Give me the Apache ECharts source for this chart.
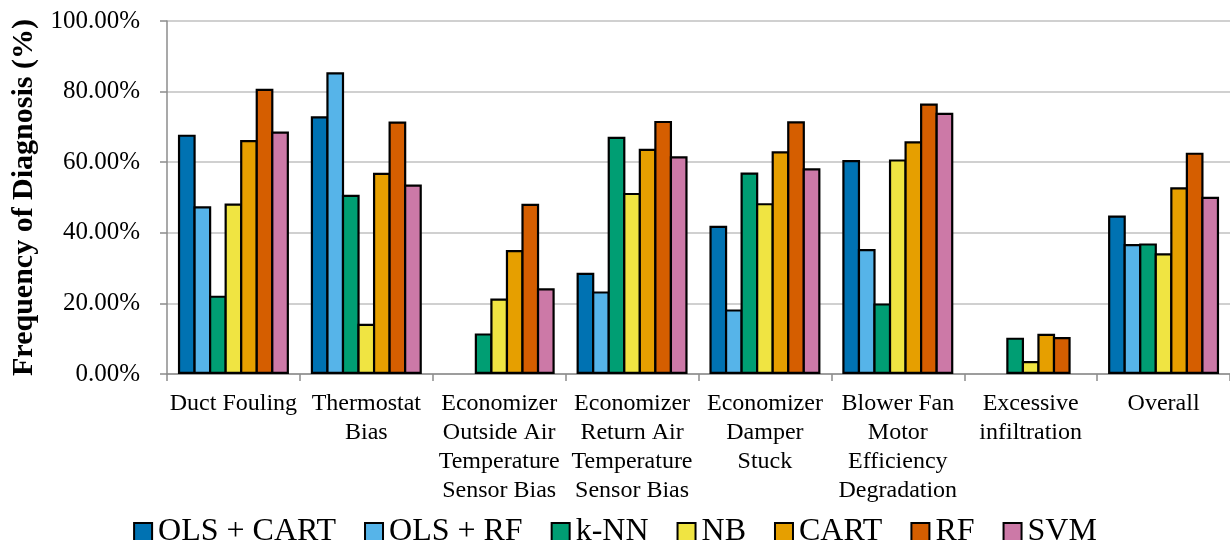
<!DOCTYPE html>
<html>
<head>
<meta charset="utf-8">
<script src="https://cdn.jsdelivr.net/npm/echarts@6/dist/echarts.min.js"></script>
<style>
html,body{margin:0;padding:0;background:#fff;}
#chart{width:1230px;height:540px;}
</style>
</head>
<body>
<div id="chart"></div>
<script>
const categories = [
  "Duct Fouling",
  "Thermostat\nBias",
  "Economizer\nOutside Air\nTemperature\nSensor Bias",
  "Economizer\nReturn Air\nTemperature\nSensor Bias",
  "Economizer\nDamper\nStuck",
  "Blower Fan\nMotor\nEfficiency\nDegradation",
  "Excessive\ninfiltration",
  "Overall"
];
const seriesNames = ["OLS + CART", "OLS + RF", "k-NN", "NB", "CART", "RF", "SVM"];
const seriesColors = ["#0072B2", "#56B4E9", "#009E73", "#F0E442", "#E69F00", "#D55E00", "#CC79A7"];

const olsCart = [67.8, 73.0, null, 28.7, 42.0, 60.6, null, 44.9];
const olsRf   = [47.5, 85.5, null, 23.4, 18.3, 35.4, null, 36.8];
const knn     = [22.2, 50.8, 11.5, 67.2, 57.1, 20.0, 10.3, 37.0];
const nb      = [48.3, 14.2, 21.4, 51.3, 48.4, 60.8, 3.7, 34.2];
const cart    = [66.3, 57.0, 35.1, 63.8, 63.1, 65.9, 11.4, 52.9];
const rf      = [80.8, 71.5, 48.2, 71.7, 71.6, 76.6, 10.5, 62.7];
const svm     = [68.7, 53.7, 24.3, 61.7, 58.3, 74.0, null, 50.2];
const allSeries = [olsCart, olsRf, knn, nb, cart, rf, svm];

const yMin = 0, yMax = 100, yInterval = 20;

const FONT = '"Liberation Serif", "Times New Roman", serif';
const BORDER = 2.2;
const BAR_W = (111 + 6 * BORDER) / 7;

const chart = echarts.init(document.getElementById('chart'));
chart.setOption({
  animation: false,
  backgroundColor: '#fff',
  textStyle: { fontFamily: FONT, color: '#000' },
  grid: { left: 167, right: 0, top: 21, bottom: 166 },
  legend: {
    left: 'center',
    top: 511,
    itemWidth: 18,
    itemHeight: 18,
    itemGap: 28,
    icon: 'rect',
    itemStyle: { borderColor: '#000', borderWidth: 2 },
    textStyle: { fontFamily: FONT, fontSize: 32, color: '#000', padding: [0, 0, 0, 1] },
    data: seriesNames
  },
  xAxis: {
    type: 'category',
    data: categories,
    axisLine: { lineStyle: { color: '#8c8c8c', width: 1.5 } },
    axisTick: { show: true, length: 7, lineStyle: { color: '#8c8c8c', width: 1.5 } },
    axisLabel: {
      interval: 0,
      fontFamily: FONT,
      fontSize: 24,
      lineHeight: 29,
      color: '#000',
      margin: 15
    }
  },
  yAxis: {
    type: 'value',
    min: yMin,
    max: yMax,
    interval: yInterval,
    name: 'Frequency of Diagnosis (%)',
    nameLocation: 'middle',
    nameGap: 116,
    nameRotate: 90,
    nameTextStyle: { fontFamily: FONT, fontSize: 30, fontWeight: 'bold', color: '#000' },
    axisLine: { show: true, lineStyle: { color: '#8c8c8c', width: 1.5 } },
    axisTick: { show: true, length: 7, lineStyle: { color: '#8c8c8c', width: 1.5 } },
    axisLabel: {
      fontFamily: FONT,
      fontSize: 25,
      color: '#000',
      margin: 27,
      formatter: v => v.toFixed(2) + '%'
    },
    splitLine: { show: true, lineStyle: { color: '#c0c0c0', width: 1.5 } }
  },
  series: allSeries.map((d, i) => ({
    name: seriesNames[i],
    type: 'bar',
    data: d,
    barWidth: BAR_W,
    barGap: (-100 * BORDER / BAR_W).toFixed(2) + '%',
    itemStyle: { color: seriesColors[i], borderColor: '#000', borderWidth: BORDER }
  }))
});
</script>
</body>
</html>
